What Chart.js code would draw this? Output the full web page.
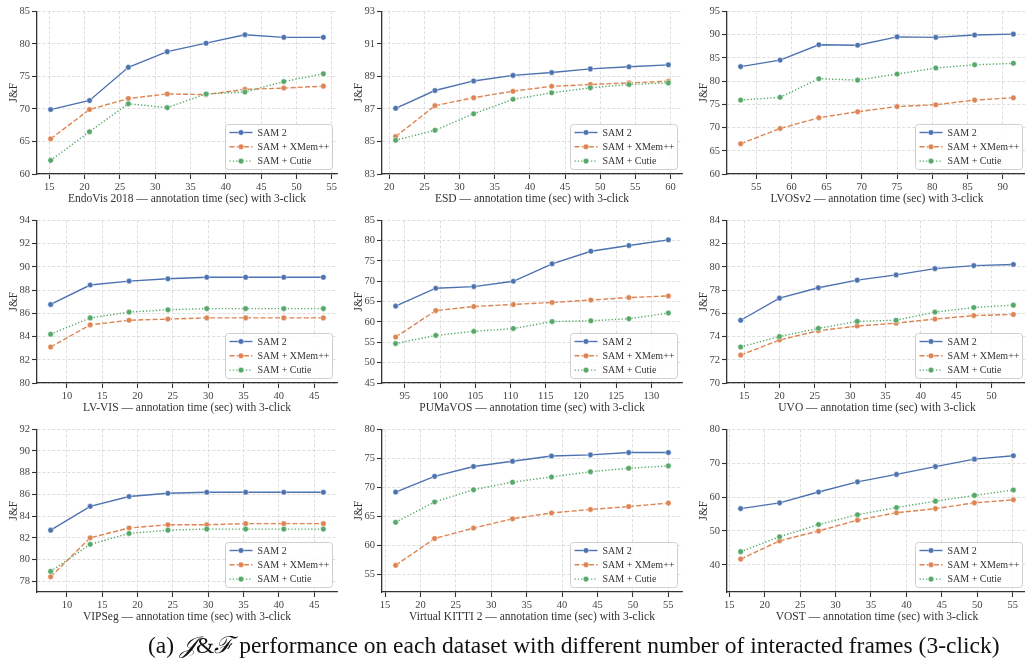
<!DOCTYPE html>
<html>
<head>
<meta charset="utf-8">
<script src="https://cdn.jsdelivr.net/npm/chart.js@4.4.0/dist/chart.umd.min.js"></script>
<style>
  body { margin: 0; width: 1025px; height: 661px; overflow: hidden; background: #fff; position: relative; }
  canvas { position: absolute; }
  #caption { position: absolute; left: 148px; top: 630px; white-space: nowrap;
             font: 23.5px "Liberation Serif", serif; line-height: 30px; color: #111; }
</style>
</head>
<body>
<canvas id="c0" width="345" height="210" style="left:0;top:3px"></canvas>
<canvas id="c1" width="345" height="210" style="left:345px;top:3px"></canvas>
<canvas id="c2" width="345" height="210" style="left:690px;top:3px"></canvas>
<canvas id="c3" width="345" height="210" style="left:0;top:212px"></canvas>
<canvas id="c4" width="345" height="210" style="left:345px;top:212px"></canvas>
<canvas id="c5" width="345" height="210" style="left:690px;top:212px"></canvas>
<canvas id="c6" width="345" height="210" style="left:0;top:421px"></canvas>
<canvas id="c7" width="345" height="210" style="left:345px;top:421px"></canvas>
<canvas id="c8" width="345" height="210" style="left:690px;top:421px"></canvas>
<div id="caption">(a) <i>𝒥</i>&amp;<i>ℱ</i> performance on each dataset with different number of interacted frames (3-click)</div>
<script>
// datos: tiempo de anotación (s) y J&F por método
const seriesNames = ['SAM 2', 'SAM + XMem++', 'SAM + Cutie'];

const endovisTime = [15.2, 20.7, 26.2, 31.7, 37.2, 42.7, 48.2, 53.8];
const endovisSam2 = [69.9, 71.3, 76.4, 78.8, 80.1, 81.4, 81.0, 81.0];
const endovisXmem = [65.4, 69.9, 71.6, 72.3, 72.2, 73.0, 73.2, 73.5];
const endovisCutie = [62.1, 66.5, 70.8, 70.2, 72.3, 72.6, 74.2, 75.4];
const endovisYTicks = [60, 65, 70, 75, 80, 85];
const endovisXTicks = [15, 20, 25, 30, 35, 40, 45, 50, 55];

const esdTime = [20.9, 26.5, 32.0, 37.6, 43.1, 48.6, 54.1, 59.7];
const esdSam2 = [87.04, 88.13, 88.72, 89.06, 89.24, 89.46, 89.59, 89.71];
const esdXmem = [85.3, 87.2, 87.69, 88.09, 88.39, 88.5, 88.6, 88.7];
const esdCutie = [85.08, 85.69, 86.7, 87.59, 87.99, 88.3, 88.5, 88.6];
const esdYTicks = [83, 85, 87, 89, 91, 93];
const esdXTicks = [20, 25, 30, 35, 40, 45, 50, 55, 60];

const lvosTime = [52.8, 58.4, 63.9, 69.4, 75.0, 80.5, 86.0, 91.5];
const lvosSam2 = [83.1, 84.5, 87.8, 87.7, 89.5, 89.4, 89.9, 90.1];
const lvosXmem = [66.5, 69.8, 72.1, 73.4, 74.5, 74.9, 75.9, 76.4];
const lvosCutie = [75.9, 76.5, 80.5, 80.2, 81.5, 82.8, 83.5, 83.8];
const lvosYTicks = [60, 65, 70, 75, 80, 85, 90, 95];
const lvosXTicks = [55, 60, 65, 70, 75, 80, 85, 90];

const lvvisTime = [7.7, 13.3, 18.8, 24.3, 29.8, 35.3, 40.7, 46.3];
const lvvisSam2 = [86.76, 88.43, 88.77, 88.97, 89.1, 89.1, 89.1, 89.1];
const lvvisXmem = [83.1, 85.0, 85.4, 85.5, 85.6, 85.6, 85.6, 85.6];
const lvvisCutie = [84.2, 85.6, 86.1, 86.3, 86.4, 86.4, 86.4, 86.4];
const lvvisYTicks = [80, 82, 84, 86, 88, 90, 92, 94];
const lvvisXTicks = [10, 15, 20, 25, 30, 35, 40, 45];

const pumaTime = [93.7, 99.4, 104.8, 110.4, 115.9, 121.4, 126.8, 132.4];
const pumaSam2 = [63.9, 68.3, 68.7, 70.0, 74.3, 77.4, 78.8, 80.2];
const pumaXmem = [56.3, 62.8, 63.8, 64.3, 64.8, 65.4, 66.0, 66.4];
const pumaCutie = [54.7, 56.7, 57.7, 58.4, 60.1, 60.3, 60.8, 62.2];
const pumaYTicks = [45, 50, 55, 60, 65, 70, 75, 80, 85];
const pumaXTicks = [95, 100, 105, 110, 115, 120, 125, 130];

const uvoTime = [14.5, 20.0, 25.5, 31.0, 36.5, 42.0, 47.5, 53.1];
const uvoSam2 = [75.4, 77.3, 78.2, 78.85, 79.3, 79.84, 80.1, 80.2];
const uvoXmem = [72.4, 73.7, 74.5, 74.9, 75.15, 75.5, 75.8, 75.9];
const uvoCutie = [73.1, 74.0, 74.7, 75.3, 75.4, 76.1, 76.5, 76.7];
const uvoYTicks = [70, 72, 74, 76, 78, 80, 82, 84];
const uvoXTicks = [15, 20, 25, 30, 35, 40, 45, 50];

const vipsegTime = [7.7, 13.3, 18.8, 24.3, 29.8, 35.3, 40.7, 46.3];
const vipsegSam2 = [82.7, 84.9, 85.8, 86.1, 86.2, 86.2, 86.2, 86.2];
const vipsegXmem = [78.4, 82.0, 82.9, 83.2, 83.2, 83.3, 83.3, 83.3];
const vipsegCutie = [78.9, 81.4, 82.4, 82.7, 82.8, 82.8, 82.8, 82.8];
const vipsegYTicks = [78, 80, 82, 84, 86, 88, 90, 92];
const vipsegXTicks = [10, 15, 20, 25, 30, 35, 40, 45];

const vkittiTime = [16.5, 22.0, 27.5, 33.0, 38.5, 44.0, 49.4, 55.0];
const vkittiSam2 = [69.2, 71.9, 73.6, 74.5, 75.4, 75.6, 76.0, 76.0];
const vkittiXmem = [56.6, 61.2, 63.0, 64.6, 65.6, 66.2, 66.7, 67.3];
const vkittiCutie = [64.0, 67.5, 69.6, 70.9, 71.8, 72.7, 73.3, 73.7];
const vkittiYTicks = [55, 60, 65, 70, 75, 80];
const vkittiXTicks = [15, 20, 25, 30, 35, 40, 45, 50, 55];

const vostTime = [16.6, 22.1, 27.6, 33.1, 38.6, 44.1, 49.6, 55.1];
const vostSam2 = [56.6, 58.3, 61.5, 64.5, 66.7, 69.0, 71.2, 72.2];
const vostXmem = [41.7, 47.1, 50.0, 53.2, 55.4, 56.6, 58.3, 59.2];
const vostCutie = [43.9, 48.3, 51.9, 54.8, 56.9, 58.8, 60.5, 62.1];
const vostYTicks = [40, 50, 60, 70, 80];
const vostXTicks = [15, 20, 25, 30, 35, 40, 45, 50, 55];

// un panel por dataset (orden fila a fila)
const panels = [
  { name: 'EndoVis 2018', time: endovisTime, ys: [endovisSam2, endovisXmem, endovisCutie], yMin: 60, yMax: 85, yTicks: endovisYTicks, xTicks: endovisXTicks },
  { name: 'ESD', time: esdTime, ys: [esdSam2, esdXmem, esdCutie], yMin: 83, yMax: 93, yTicks: esdYTicks, xTicks: esdXTicks },
  { name: 'LVOSv2', time: lvosTime, ys: [lvosSam2, lvosXmem, lvosCutie], yMin: 60, yMax: 95, yTicks: lvosYTicks, xTicks: lvosXTicks },
  { name: 'LV-VIS', time: lvvisTime, ys: [lvvisSam2, lvvisXmem, lvvisCutie], yMin: 80, yMax: 94, yTicks: lvvisYTicks, xTicks: lvvisXTicks },
  { name: 'PUMaVOS', time: pumaTime, ys: [pumaSam2, pumaXmem, pumaCutie], yMin: 45, yMax: 85, yTicks: pumaYTicks, xTicks: pumaXTicks },
  { name: 'UVO', time: uvoTime, ys: [uvoSam2, uvoXmem, uvoCutie], yMin: 70, yMax: 84, yTicks: uvoYTicks, xTicks: uvoXTicks },
  { name: 'VIPSeg', time: vipsegTime, ys: [vipsegSam2, vipsegXmem, vipsegCutie], yMin: 77, yMax: 92, yTicks: vipsegYTicks, xTicks: vipsegXTicks },
  { name: 'Virtual KITTI 2', time: vkittiTime, ys: [vkittiSam2, vkittiXmem, vkittiCutie], yMin: 52, yMax: 80, yTicks: vkittiYTicks, xTicks: vkittiXTicks },
  { name: 'VOST', time: vostTime, ys: [vostSam2, vostXmem, vostCutie], yMin: 32, yMax: 80, yTicks: vostYTicks, xTicks: vostXTicks }
];

const colors = ['#4C72B0', '#DD8452', '#55A868'];
const dashes = [[], [5, 2.2], [1.3, 2]];
const textColor = '#333';
const fontFamily = '"Liberation Serif", "Times New Roman", serif';

Chart.defaults.font.family = fontFamily;
Chart.defaults.color = textColor;

// leyenda dibujada dentro del área (abajo a la derecha), como en seaborn
const boxLegend = {
  id: 'boxLegend',
  afterDatasetsDraw(chart) {
    const { ctx, chartArea } = chart;
    const w = 107, h = 45;
    const x = Math.round(chartArea.right - 5 - w) + 0.5;
    const y = Math.round(chartArea.bottom - 5 - h) + 0.5;
    ctx.save();
    ctx.beginPath();
    ctx.roundRect(x, y, w, h, 3);
    ctx.fillStyle = 'rgba(255,255,255,0.85)';
    ctx.fill();
    ctx.strokeStyle = '#cfcfcf';
    ctx.lineWidth = 1;
    ctx.stroke();
    chart.data.datasets.forEach((ds, i) => {
      const cy = y + 8 + i * 14.3;
      ctx.strokeStyle = ds.borderColor;
      ctx.lineWidth = ds.borderWidth;
      ctx.setLineDash(ds.borderDash);
      ctx.beginPath();
      ctx.moveTo(x + 4, cy);
      ctx.lineTo(x + 27, cy);
      ctx.stroke();
      ctx.setLineDash([]);
      ctx.beginPath();
      ctx.arc(x + 15.5, cy, ds.pointRadius, 0, Math.PI * 2);
      ctx.fillStyle = ds.borderColor;
      ctx.fill();
      ctx.strokeStyle = '#fff';
      ctx.lineWidth = 0.5;
      ctx.stroke();
      ctx.fillStyle = textColor;
      ctx.font = '10px ' + fontFamily;
      ctx.textBaseline = 'middle';
      ctx.fillText(ds.label, x + 32, cy + 0.5);
    });
    ctx.restore();
  }
};

function makeChart(id, p) {
  const span = p.time[p.time.length - 1] - p.time[0];
  const datasets = p.ys.map((vals, i) => ({
    label: seriesNames[i],
    data: vals.map((v, k) => ({ x: p.time[k], y: v })),
    borderColor: colors[i],
    backgroundColor: colors[i],
    borderWidth: 1.4,
    borderDash: dashes[i],
    pointRadius: 2.8,
    pointBackgroundColor: colors[i],
    pointBorderColor: '#fff',
    pointBorderWidth: 0.5,
    tension: 0,
    order: 3 - i
  }));

  const grid = {
    color: '#d4d4d4',
    lineWidth: 0.8,
    tickLength: 5,
    tickColor: '#333',
    tickWidth: 1.1
  };
  const border = { color: '#333', width: 1.3, dash: [3, 2] };

  return new Chart(document.getElementById(id), {
    type: 'line',
    data: { datasets },
    options: {
      responsive: false,
      animation: false,
      layout: { padding: { top: 6, right: 8, left: 0, bottom: 0 } },
      plugins: { legend: { display: false }, tooltip: { enabled: false } },
      scales: {
        x: {
          type: 'linear',
          min: p.time[0] - span * 0.05,
          max: p.time[p.time.length - 1] + span * 0.05,
          grid, border,
          ticks: { autoSkip: false, maxRotation: 0, padding: 2, color: '#444', font: { size: 10.5 } },
          afterBuildTicks: (s) => { s.ticks = p.xTicks.map(v => ({ value: v })); },
          afterFit: (s) => { s.height = 39; },
          title: {
            display: true,
            text: p.name + ' — annotation time (sec) with 3-click',
            color: textColor,
            font: { size: 11.5 },
            padding: { top: 0, bottom: 7 }
          }
        },
        y: {
          min: p.yMin,
          max: p.yMax,
          grid, border,
          ticks: { padding: 2, color: '#444', font: { size: 10.5 } },
          afterBuildTicks: (s) => { s.ticks = p.yTicks.map(v => ({ value: v })); },
          afterFit: (s) => { s.width = 37; },
          title: {
            display: true,
            text: 'J&F',
            color: textColor,
            font: { size: 11.5 },
            padding: { top: 7, bottom: 0 }
          }
        }
      }
    },
    plugins: [boxLegend]
  });
}

panels.forEach((p, i) => makeChart('c' + i, p));
</script>
</body>
</html>
